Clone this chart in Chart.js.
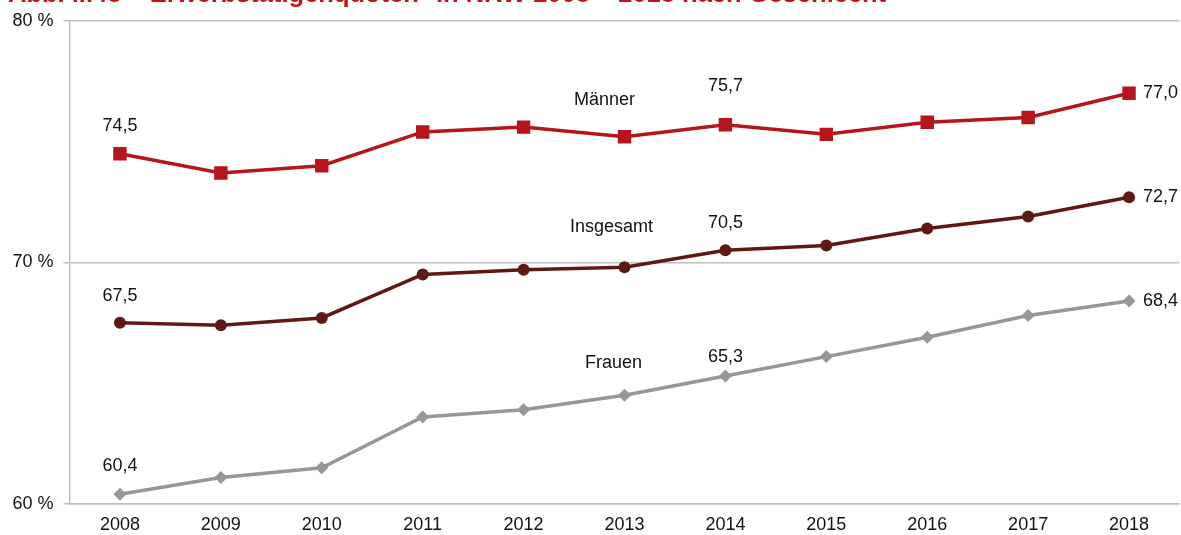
<!DOCTYPE html>
<html>
<head>
<meta charset="utf-8">
<script src="https://cdn.jsdelivr.net/npm/chart.js@4"></script>
<style>
  html, body { margin: 0; padding: 0; background: #fff; overflow: hidden; }
  #wrap { position: relative; width: 1181px; height: 535px; overflow: hidden; }
  #title { position: absolute; left: 8px; top: -19px; white-space: nowrap;
           font: bold 25.5px "Liberation Sans", Arial, sans-serif; line-height: 25px; color: #c0141c; z-index: 2; }
  canvas { position: absolute; left: 0; top: 0; }
</style>
</head>
<body>
<div id="wrap">
  <div id="title">Abb. II.48 – Erwerbstätigenquoten* in NRW 2008 – 2018 nach Geschlecht</div>
  <canvas id="c" width="1189" height="535"></canvas>
</div>
<script>
const years = ['2008','2009','2010','2011','2012','2013','2014','2015','2016','2017','2018'];
const maenner   = [74.5, 73.7, 74.0, 75.4, 75.6, 75.2, 75.7, 75.3, 75.8, 76.0, 77.0];
const insgesamt = [67.5, 67.4, 67.7, 69.5, 69.7, 69.8, 70.5, 70.7, 71.4, 71.9, 72.7];
const frauen    = [60.4, 61.1, 61.5, 63.6, 63.9, 64.5, 65.3, 66.1, 66.9, 67.8, 68.4];
const seriesNames = ['Männer', 'Insgesamt', 'Frauen'];
const yTicks = [60, 70, 80];
const labeledIdx = [0, 6, 10];

const FONT = '"Liberation Sans", Arial, sans-serif';
const fmt = v => v.toFixed(1).replace('.', ',');

// label placement (pixel offsets) per dataset
const labelCfg = [
  { above: [28, 39], nameDx: -20, nameValue: 76.74 },
  { above: [27, 27], nameDx: -13, nameValue: 71.45 },
  { above: [28, 19], nameDx: -11, nameValue: 65.83 }
];

const labelPlugin = {
  id: 'labels',
  afterDatasetsDraw(chart) {
    const ctx = chart.ctx;
    const xs = chart.scales.x, ys = chart.scales.y;
    ctx.save();
    ctx.font = '18px ' + FONT;
    ctx.fillStyle = '#111';
    chart.data.datasets.forEach((ds, di) => {
      const cfg = labelCfg[di];
      labeledIdx.forEach((idx, k) => {
        const x = xs.getPixelForValue(idx);
        const y = ys.getPixelForValue(ds.data[idx]);
        const t = fmt(ds.data[idx]);
        if (k < 2) {
          ctx.textAlign = 'center'; ctx.textBaseline = 'middle';
          ctx.fillText(t, x, y - cfg.above[k]);
        } else {
          ctx.textAlign = 'left'; ctx.textBaseline = 'middle';
          ctx.fillText(t, x + 14, y);
        }
      });
      ctx.textAlign = 'center'; ctx.textBaseline = 'middle';
      ctx.fillText(seriesNames[di], xs.getPixelForValue(5) + cfg.nameDx, ys.getPixelForValue(cfg.nameValue));
    });
    ctx.restore();
  }
};

new Chart(document.getElementById('c'), {
  type: 'line',
  data: {
    labels: years,
    datasets: [
      { label: seriesNames[0], data: maenner, borderColor: '#b5161b', backgroundColor: '#b5161b',
        borderWidth: 3.5, pointStyle: 'rect', pointRadius: 9.5, pointBorderWidth: 0, tension: 0 },
      { label: seriesNames[1], data: insgesamt, borderColor: '#5e1914', backgroundColor: '#5e1914',
        borderWidth: 3.5, pointStyle: 'circle', pointRadius: 6, pointBorderWidth: 0, tension: 0 },
      { label: seriesNames[2], data: frauen, borderColor: '#979797', backgroundColor: '#979797',
        borderWidth: 3.5, pointStyle: 'rectRot', pointRadius: 6.5, pointBorderWidth: 0, tension: 0 }
    ]
  },
  options: {
    responsive: false,
    animation: false,
    layout: { padding: { top: 20, right: 2, left: 0, bottom: 0 } },
    plugins: { legend: { display: false }, tooltip: { enabled: false }, title: { display: false } },
    scales: {
      x: {
        offset: true,
        grid: { display: false },
        border: { display: true, color: '#bfbfbf', width: 1.5 },
        ticks: { color: '#111', font: { family: FONT, size: 18 }, padding: 2, maxRotation: 0 },
        afterFit(s) { s.height = 31; }
      },
      y: {
        min: 60, max: 80,
        afterBuildTicks(s) { s.ticks = yTicks.map(v => ({ value: v })); },
        grid: { color: '#bfbfbf', lineWidth: 1.5, tickLength: 6, drawTicks: true },
        border: { display: true, color: '#bfbfbf', width: 1.5 },
        ticks: { color: '#111', font: { family: FONT, size: 18 }, padding: 10, callback: v => v + ' %' },
        afterFit(s) { s.width = 69.5; }
      }
    }
  },
  plugins: [labelPlugin]
});
</script>
</body>
</html>
